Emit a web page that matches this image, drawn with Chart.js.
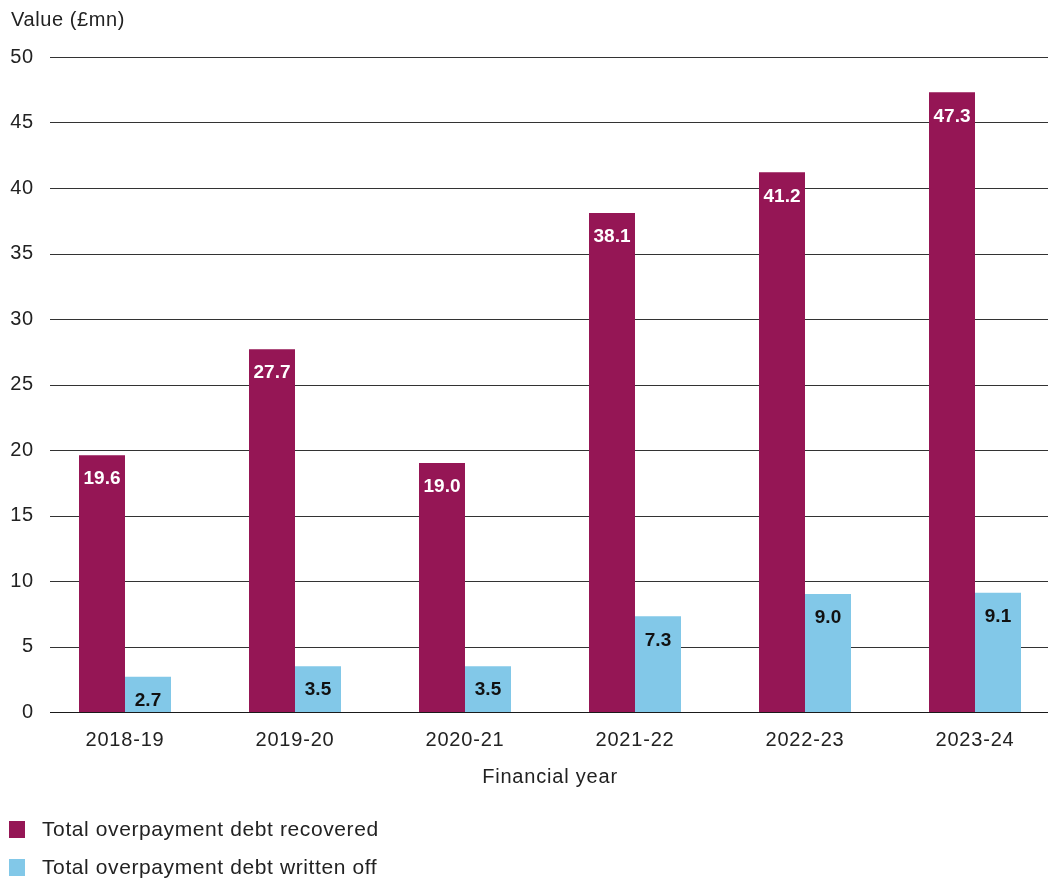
<!DOCTYPE html>
<html>
<head>
<meta charset="utf-8">
<script src="https://cdn.jsdelivr.net/npm/chart.js@4.4.1/dist/chart.umd.min.js"></script>
<style>
	html, body { margin: 0; padding: 0; background: #fff; overflow: hidden; }
	#wrap { position: relative; width: 1054px; height: 879px; overflow: hidden; font-family: "Liberation Sans", Arial, sans-serif; color: #222; }
	#chart { position: absolute; left: 0; top: 0; }
	.txt { position: absolute; line-height: 1; white-space: nowrap; letter-spacing: 0.6px; }
	#ytitle { left: 11px; top: 9px; font-size: 20px; }
	.key { position: absolute; left: 9px; width: 16px; height: 17px; }
	.lbl { left: 42px; font-size: 21px; }
</style>
</head>
<body>
<div id="wrap">
	<canvas id="chart" width="1070" height="879"></canvas>
	<div class="txt" id="ytitle">Value (£mn)</div>
	<div class="key" style="top: 821px; background: #951655;"></div>
	<div class="txt lbl" style="top: 818px;">Total overpayment debt recovered</div>
	<div class="key" style="top: 859px; background: #82c8e8;"></div>
	<div class="txt lbl" style="top: 856px;">Total overpayment debt written off</div>
</div>
<script>
var years = ["2018-19", "2019-20", "2020-21", "2021-22", "2022-23", "2023-24"];
var recovered = [19.6, 27.7, 19.0, 38.1, 41.2, 47.3];
var writtenOff = [2.7, 3.5, 3.5, 7.3, 9.0, 9.1];
var yTicks = [0, 5, 10, 15, 20, 25, 30, 35, 40, 45, 50];

var color = {
	plum: "#951655",
	sky: "#82c8e8",
	text: "#222222",
	grid: "#333333"
};

// horizontal rules, drawn a little narrower than the chart area
var gridLines = {
	id: "gridLines",
	beforeDraw: function (chart) {
		chart.ctx.letterSpacing = "0.8px";
	},
	beforeDatasetsDraw: function (chart) {
		var ctx = chart.ctx;
		var y = chart.scales.y;
		ctx.save();
		ctx.lineWidth = 1;
		yTicks.forEach(function (v) {
			var py = Math.round(y.getPixelForValue(v)) + 0.5;
			ctx.strokeStyle = v === 0 ? "#1a1a1a" : color.grid;
			ctx.beginPath();
			ctx.moveTo(50, py);
			ctx.lineTo(1048, py);
			ctx.stroke();
		});
		ctx.restore();
	}
};

// value labels just inside the top of each bar
var barLabels = {
	id: "barLabels",
	afterDatasetsDraw: function (chart) {
		var ctx = chart.ctx;
		ctx.save();
		ctx.letterSpacing = "0px";
		ctx.font = "bold 19px 'Liberation Sans', Arial, sans-serif";
		ctx.textAlign = "center";
		ctx.textBaseline = "middle";
		chart.data.datasets.forEach(function (ds, i) {
			var meta = chart.getDatasetMeta(i);
			meta.data.forEach(function (bar, j) {
				ctx.fillStyle = i === 0 ? "#ffffff" : "#111111";
				ctx.fillText(ds.data[j].toFixed(1), bar.x, bar.y + 24);
			});
		});
		ctx.restore();
	}
};

var ctx = document.getElementById("chart").getContext("2d");
var chart = new Chart(ctx, {
	type: "bar",
	data: {
		labels: years,
		datasets: [
			{
				label: "Total overpayment debt recovered",
				data: recovered,
				backgroundColor: color.plum
			},
			{
				label: "Total overpayment debt written off",
				data: writtenOff,
				backgroundColor: color.sky
			}
		]
	},
	options: {
		responsive: false,
		animation: false,
		devicePixelRatio: 1,
		layout: { padding: { left: 0, right: 10, top: 57, bottom: 87 } },
		datasets: {
			// 170px per year, 46px per bar
			bar: { categoryPercentage: 92 / 170, barPercentage: 1 }
		},
		plugins: {
			legend: { display: false },
			tooltip: { enabled: false }
		},
		scales: {
			x: {
				grid: { display: false, drawTicks: false },
				border: { display: false },
				ticks: {
					color: color.text,
					padding: 16,
					font: { family: "'Liberation Sans', Arial, sans-serif", size: 20 }
				},
				title: {
					display: true,
					text: "Financial year",
					color: color.text,
					padding: { top: 0, bottom: 3 },
					font: { family: "'Liberation Sans', Arial, sans-serif", size: 20 }
				},
				afterFit: function (scale) {
					scale.height = 80;
				}
			},
			y: {
				min: 0,
				max: 50,
				grid: { display: false, drawTicks: false },
				border: { display: false },
				ticks: {
					stepSize: 5,
					color: color.text,
					padding: 6,
					font: { family: "'Liberation Sans', Arial, sans-serif", size: 20 }
				},
				afterFit: function (scale) {
					scale.width = 40;
				}
			}
		}
	},
	plugins: [gridLines, barLabels]
});
</script>
</body>
</html>
